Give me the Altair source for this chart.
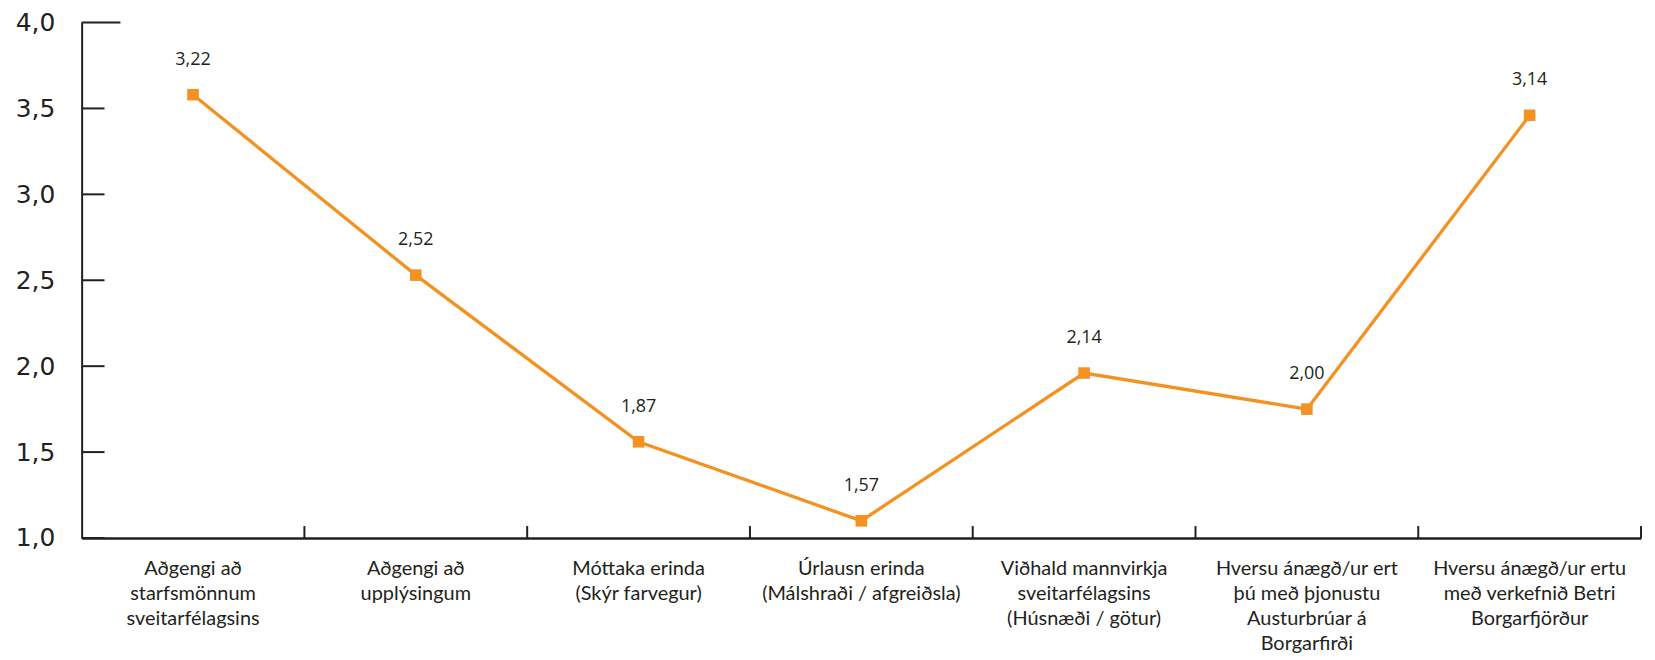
import altair as alt
import pandas as pd

categories = [
    "Aðgengi að\nstarfsmönnum\nsveitarfélagsins",
    "Aðgengi að\nupplýsingum",
    "Móttaka erinda\n(Skýr farvegur)",
    "Úrlausn erinda\n(Málshraði / afgreiðsla)",
    "Viðhald mannvirkja\nsveitarfélagsins\n(Húsnæði / götur)",
    "Hversu ánægð/ur ert\nþú með þjonustu\nAusturbrúar á\nBorgarfirði",
    "Hversu ánægð/ur ertu\nmeð verkefnið Betri\nBorgarfjörður",
]
plotted = [3.58, 2.53, 1.56, 1.10, 1.96, 1.75, 3.46]
value_labels = [3.22, 2.52, 1.87, 1.57, 2.14, 2.00, 3.14]
y_ticks = [1.0, 1.5, 2.0, 2.5, 3.0, 3.5, 4.0]

ORANGE = "#f39121"
DARK = "#231f20"

df = pd.DataFrame({"cat": categories, "val": plotted, "lab": value_labels})
ticks_df = pd.DataFrame({"v": y_ticks})
cat_df = pd.DataFrame({"cat": categories})

H = 518

xscale = alt.Scale(type="band", domain=categories, paddingInner=0, paddingOuter=0)
yscale = alt.Scale(domain=[1, 4], nice=False, zero=False)

x_enc = alt.X(
    "cat:N", scale=xscale, sort=categories, bandPosition=0.5, title=None,
    axis=alt.Axis(
        labelAngle=0, ticks=False, tickSize=0, labelPadding=21,
        labelExpr="split(datum.label, '\\n')", labelLineHeight=25,
        labelFont="Lato", labelFontSize=20, labelColor=DARK,
        labelBaseline="top", labelLimit=0,
        domainColor=DARK, domainWidth=2.7, grid=False,
    ),
)
y_enc = alt.Y(
    "val:Q", scale=yscale, title=None,
    axis=alt.Axis(
        values=y_ticks, ticks=False, tickSize=0, labelPadding=27,
        labelExpr="replace(format(datum.value, '.1f'), '.', ',')",
        labelFont="DejaVu Sans", labelFontSize=25, labelColor=DARK,
        domainColor=DARK, domainWidth=2, grid=False,
    ),
)

base = alt.Chart(df)
line = base.mark_line(color=ORANGE, strokeWidth=3.3).encode(x=x_enc, y=y_enc)
pts = base.mark_point(shape="square", filled=True, size=135, color=ORANGE, opacity=1).encode(
    x=alt.X("cat:N", scale=xscale, sort=categories, bandPosition=0.5),
    y=alt.Y("val:Q", scale=yscale),
)
txt = base.transform_calculate(
    t="replace(format(datum.lab, '.2f'), '.', ',')"
).mark_text(font="Open Sans", fontSize=18, color=DARK, baseline="alphabetic", dy=-30).encode(
    x=alt.X("cat:N", scale=xscale, sort=categories, bandPosition=0.5),
    y=alt.Y("val:Q", scale=yscale),
    text="t:N",
)

ytick_short = alt.Chart(ticks_df).transform_filter("datum.v < 4").mark_rule(
    color=DARK, strokeWidth=2
).encode(y=alt.Y("v:Q", scale=yscale), x=alt.value(0), x2=alt.value(23))
ytick_top = alt.Chart(ticks_df).transform_filter("datum.v >= 4").mark_rule(
    color=DARK, strokeWidth=2
).encode(y=alt.Y("v:Q", scale=yscale), x=alt.value(0), x2=alt.value(39))
xticks = alt.Chart(cat_df).mark_rule(color=DARK, strokeWidth=2).encode(
    x=alt.X("cat:N", scale=xscale, sort=categories, bandPosition=1),
    y=alt.value(H - 12), y2=alt.value(H),
)

chart = alt.layer(line, ytick_short, ytick_top, xticks, pts, txt).properties(
    width=1567, height=H,
    autosize=alt.AutoSizeParams(type="none"),
    padding={"left": 74, "top": 13, "right": 6, "bottom": 122},
    background="white",
).configure_view(stroke=None)

chart.save("out.html", embed_options={"renderer": "svg", "actions": False})
